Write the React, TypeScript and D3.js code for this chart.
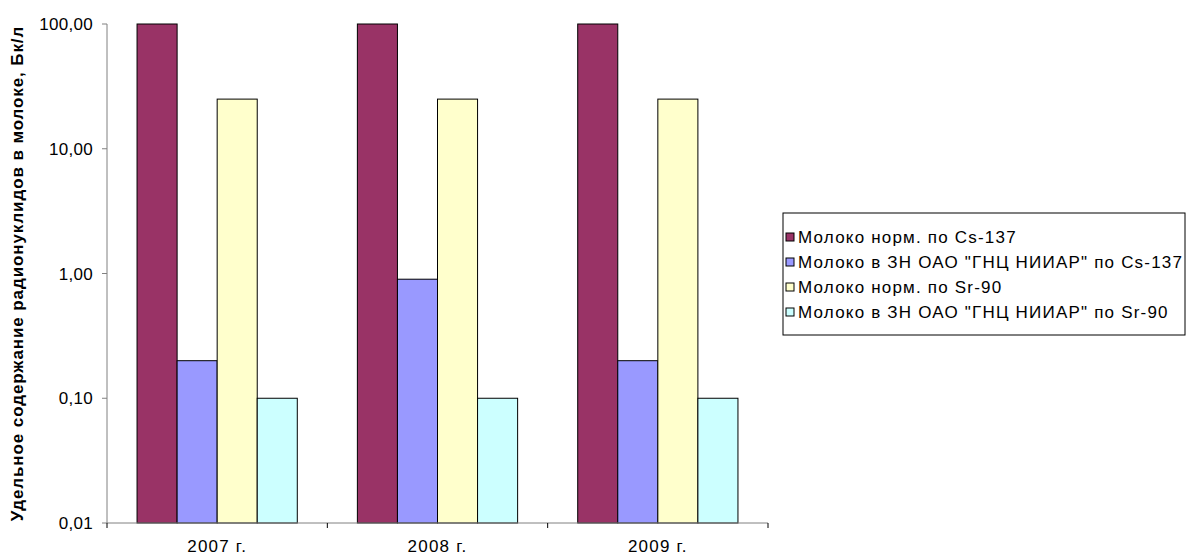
import React from "react";
import * as d3 from "d3";

const years = ["2007 г.", "2008 г.", "2009 г."];
const seriesNames = [
  "Молоко норм. по Cs-137",
  "Молоко в ЗН ОАО \"ГНЦ НИИАР\" по Cs-137",
  "Молоко норм. по Sr-90",
  "Молоко в ЗН ОАО \"ГНЦ НИИАР\" по Sr-90",
];
const normCs = [100, 100, 100];
const zoneCs = [0.2, 0.9, 0.2];
const normSr = [25, 25, 25];
const zoneSr = [0.1, 0.1, 0.1];
const yTicks = [0.01, 0.1, 1, 10, 100];
const colors = ["#993366", "#9999FF", "#FFFFCC", "#CCFFFF"];

const W = 1188, H = 560;
const plot = { left: 107, right: 768, top: 24, bottom: 523 };
const font = "'Liberation Sans', Arial, sans-serif";

export default function App() {
  const series = [normCs, zoneCs, normSr, zoneSr];

  const x = d3.scaleBand<string>()
    .domain(years)
    .range([plot.left, plot.right]);
  const inner = d3.scaleBand<number>()
    .domain(d3.range(series.length))
    .range([0, x.bandwidth()])
    .paddingOuter(0.75)
    .paddingInner(0);
  const y = d3.scaleLog()
    .domain([0.01, 100])
    .range([plot.bottom, plot.top]);

  const fmt = (v: number) => v.toFixed(2).replace(".", ",");

  const legend = { x: 783, y: 213, w: 402, h: 122 };

  return (
    <svg width={W} height={H} style={{ position: "absolute", left: 0, top: 0, fontFamily: font }}>
      <rect width={W} height={H} fill="#fff" />

      {years.map((yr, i) =>
        series.map((s, j) => (
          <rect
            key={yr + j}
            x={(x(yr) ?? 0) + (inner(j) ?? 0)}
            y={y(s[i])}
            width={inner.bandwidth()}
            height={plot.bottom - y(s[i])}
            fill={colors[j]}
            stroke="#000"
            strokeWidth={1}
          />
        ))
      )}

      {/* y axis */}
      <line x1={plot.left} x2={plot.left} y1={plot.top} y2={plot.bottom} stroke="#808080" />
      {yTicks.map((t) => (
        <g key={t}>
          <line x1={plot.left - 5} x2={plot.left} y1={y(t)} y2={y(t)} stroke="#808080" />
          <text x={plot.left - 14} y={y(t) + 6} textAnchor="end" fontSize={17} letterSpacing={0.3} fill="#000">
            {fmt(t)}
          </text>
        </g>
      ))}

      {/* x axis */}
      <line x1={plot.left} x2={plot.right} y1={plot.bottom} y2={plot.bottom} stroke="#808080" />
      {years.map((yr) => (
        <g key={yr}>
          <line x1={(x(yr) ?? 0) + x.bandwidth()} x2={(x(yr) ?? 0) + x.bandwidth()}
            y1={plot.bottom} y2={plot.bottom + 5} stroke="#000" />
          <text x={(x(yr) ?? 0) + x.bandwidth() / 2} y={552} textAnchor="middle" fontSize={17} letterSpacing={1.2}>
            {yr}
          </text>
        </g>
      ))}
      <line x1={plot.left} x2={plot.left} y1={plot.bottom} y2={plot.bottom + 5} stroke="#000" />

      <text
        transform={`translate(23,${(plot.top + plot.bottom) / 2}) rotate(-90)`}
        textAnchor="middle"
        fontSize={17}
        fontWeight="bold"
        letterSpacing={0.9}
      >
        Удельное содержание радионуклидов в молоке, Бк/л
      </text>

      {/* legend */}
      <rect x={legend.x} y={legend.y} width={legend.w} height={legend.h} fill="#fff" stroke="#000" />
      {seriesNames.map((n, j) => (
        <g key={n} transform={`translate(${legend.x + 3},${legend.y + 24 + j * 25})`}>
          <rect x={0} y={-4} width={8} height={8} fill={colors[j]} stroke="#000" />
          <text x={12} y={6} fontSize={17} letterSpacing={1.2}>{n}</text>
        </g>
      ))}
    </svg>
  );
}
